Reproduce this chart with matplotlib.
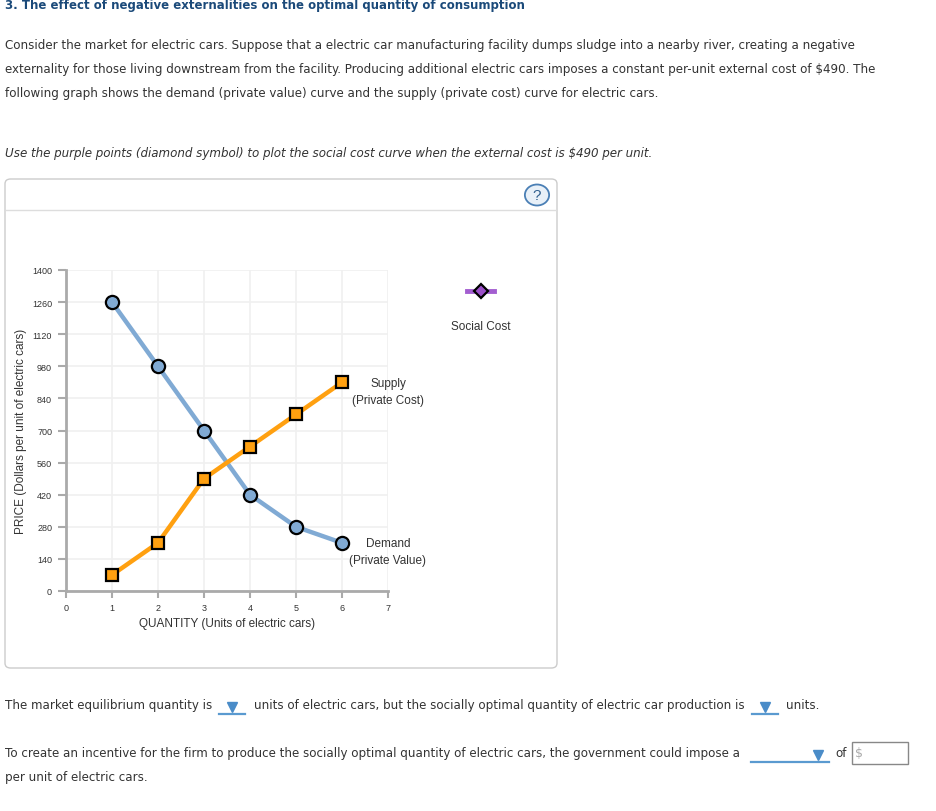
import matplotlib
matplotlib.use("Agg")
import matplotlib.pyplot as plt
from matplotlib.patches import FancyBboxPatch, Circle, Rectangle
from matplotlib.lines import Line2D

# Data
quantity = [1, 2, 3, 4, 5, 6]
demand = [1260, 980, 700, 420, 280, 210]
supply = [70, 210, 490, 630, 770, 910]
x_ticks = [0, 1, 2, 3, 4, 5, 6, 7]
y_ticks = [0, 140, 280, 420, 560, 700, 840, 980, 1120, 1260, 1400]

W, H = 937, 812
fig = plt.figure(figsize=(W / 100, H / 100), dpi=100)
fig.patch.set_facecolor("white")

TXT = "#333333"
BODY = dict(fontsize=8.6, color=TXT, family="DejaVu Sans")


def fx(px):
    return px / W


def fy(py):
    return 1 - py / H


# Page text
fig.text(fx(5), fy(5), "3. The effect of negative externalities on the optimal quantity of consumption",
         fontsize=8.5, fontweight="bold", color="#1b4a7a", va="center")
fig.text(fx(5), fy(46), "Consider the market for electric cars. Suppose that a electric car manufacturing facility dumps sludge into a nearby river, creating a negative",
         va="center", **BODY)
fig.text(fx(5), fy(70), "externality for those living downstream from the facility. Producing additional electric cars imposes a constant per-unit external cost of $490. The",
         va="center", **BODY)
fig.text(fx(5), fy(94), "following graph shows the demand (private value) curve and the supply (private cost) curve for electric cars.",
         va="center", **BODY)
fig.text(fx(5), fy(154), "Use the purple points (diamond symbol) to plot the social cost curve when the external cost is $490 per unit.",
         va="center", style="italic", **BODY)

# Chart panel (kept behind the axes)
panel = FancyBboxPatch((fx(5), fy(669)), fx(552), 489 / H,
                       boxstyle="round,pad=0,rounding_size=0.006",
                       transform=fig.transFigure, facecolor="white",
                       edgecolor="#cccccc", linewidth=1.0, zorder=-2)
fig.add_artist(panel)
fig.add_artist(Line2D([fx(6), fx(556)], [fy(211), fy(211)], transform=fig.transFigure,
                      color="#dddddd", linewidth=1.0, zorder=-1))
fig.add_artist(Circle((fx(537), fy(196)), 10.5 / H, transform=fig.transFigure,
                      facecolor="#e8f0f8", edgecolor="#4a7fb5", linewidth=1.3))
fig.text(fx(537), fy(196.5), "?", ha="center", va="center", fontsize=11,
         color="#2f5f8f", family="Liberation Sans")

# Plot area
ax = fig.add_axes([fx(66), fy(592), 322 / W, 321 / H])
ax.patch.set_alpha(0)
ax.set_xlim(0, 7)
ax.set_ylim(0, 1400)
ax.set_xticks(x_ticks)
ax.set_yticks(y_ticks)
ax.set_xticklabels([str(t) for t in x_ticks], fontsize=6.5, color=TXT, family="Liberation Sans")
ax.set_yticklabels([str(t) for t in y_ticks], fontsize=6.5, color=TXT, family="Liberation Sans")
ax.tick_params(axis="x", direction="out", length=5, width=1.5, color="#aaaaaa", pad=4)
ax.tick_params(axis="y", direction="out", length=6, width=1.5, color="#aaaaaa", pad=4)
ax.grid(True, color="#f0f0f0", linewidth=1.2)
ax.set_axisbelow(True)
for side in ["top", "right"]:
    ax.spines[side].set_visible(False)
for side in ["left", "bottom"]:
    ax.spines[side].set_color("#aaaaaa")
    ax.spines[side].set_linewidth(2)

ax.plot(quantity, demand, color="#80aad4", linewidth=3.2, marker="o", markersize=9.5,
        markerfacecolor="#80aad4", markeredgecolor="black", markeredgewidth=1.6,
        clip_on=False, zorder=3)
ax.plot(quantity, supply, color="#ffa010", linewidth=3.2, marker="s", markersize=8,
        markerfacecolor="#ffa010", markeredgecolor="black", markeredgewidth=1.6,
        clip_on=False, zorder=3)

ax.set_xlabel("QUANTITY (Units of electric cars)", fontsize=8.5, color=TXT,
              family="Liberation Sans", labelpad=3)
ax.set_ylabel("PRICE (Dollars per unit of electric cars)", fontsize=8.5, color=TXT,
              family="Liberation Sans")
ax.yaxis.set_label_coords((27 - 66) / 322, 0.5)

ax.annotate("Supply\n(Private Cost)", xy=(7, supply[-1]), xytext=(0, 5),
            textcoords="offset pixels", ha="center", va="top", fontsize=8.5,
            color=TXT, family="Liberation Sans", linespacing=1.55, annotation_clip=False)
ax.annotate("Demand\n(Private Value)", xy=(7, demand[-1]), xytext=(0, 6),
            textcoords="offset pixels", ha="center", va="top", fontsize=8.5,
            color=TXT, family="Liberation Sans", linespacing=1.55, annotation_clip=False)

# Social cost legend
fig.add_artist(Line2D([fx(467), fx(494)], [fy(292), fy(292)], transform=fig.transFigure,
                      color="#a35ed0", linewidth=3.5))
fig.add_artist(Line2D([fx(481)], [fy(292)], transform=fig.transFigure, marker="D",
                      markersize=7, markerfacecolor="#9b4fc8", markeredgecolor="black",
                      markeredgewidth=1.6))
fig.text(fx(481), fy(327), "Social Cost", ha="center", va="center", fontsize=8.5,
         color=TXT, family="Liberation Sans")


# Bottom questions with drop-downs
def dropdown(x0, x1, y, tri_x):
    fig.add_artist(Line2D([fx(x0), fx(x1)], [fy(y), fy(y)], transform=fig.transFigure,
                          color="#5a9ad0", linewidth=1.6))
    fig.add_artist(Line2D([fx(tri_x)], [fy(y - 7)], transform=fig.transFigure, marker="v",
                          markersize=7, markerfacecolor="#4a8cc8", markeredgecolor="#4a8cc8"))


fig.text(fx(5), fy(706), "The market equilibrium quantity is", va="center", **BODY)
dropdown(219, 245, 715, 232)
fig.text(fx(254), fy(706), "units of electric cars, but the socially optimal quantity of electric car production is",
         va="center", **BODY)
dropdown(752, 778, 715, 765)
fig.text(fx(786), fy(706), "units.", va="center", **BODY)

fig.text(fx(5), fy(754), "To create an incentive for the firm to produce the socially optimal quantity of electric cars, the government could impose a",
         va="center", **BODY)
dropdown(751, 829, 763, 818)
fig.text(fx(835), fy(754), "of", va="center", **BODY)
fig.add_artist(Rectangle((fx(852), fy(765)), 56 / W, 22 / H, transform=fig.transFigure,
                         facecolor="white", edgecolor="#888888", linewidth=1.0))
fig.text(fx(855), fy(754), "$", va="center", fontsize=9, color="#aaaaaa")
fig.text(fx(5), fy(778), "per unit of electric cars.", va="center", **BODY)

fig.savefig("out.png", dpi=100, facecolor="white")
